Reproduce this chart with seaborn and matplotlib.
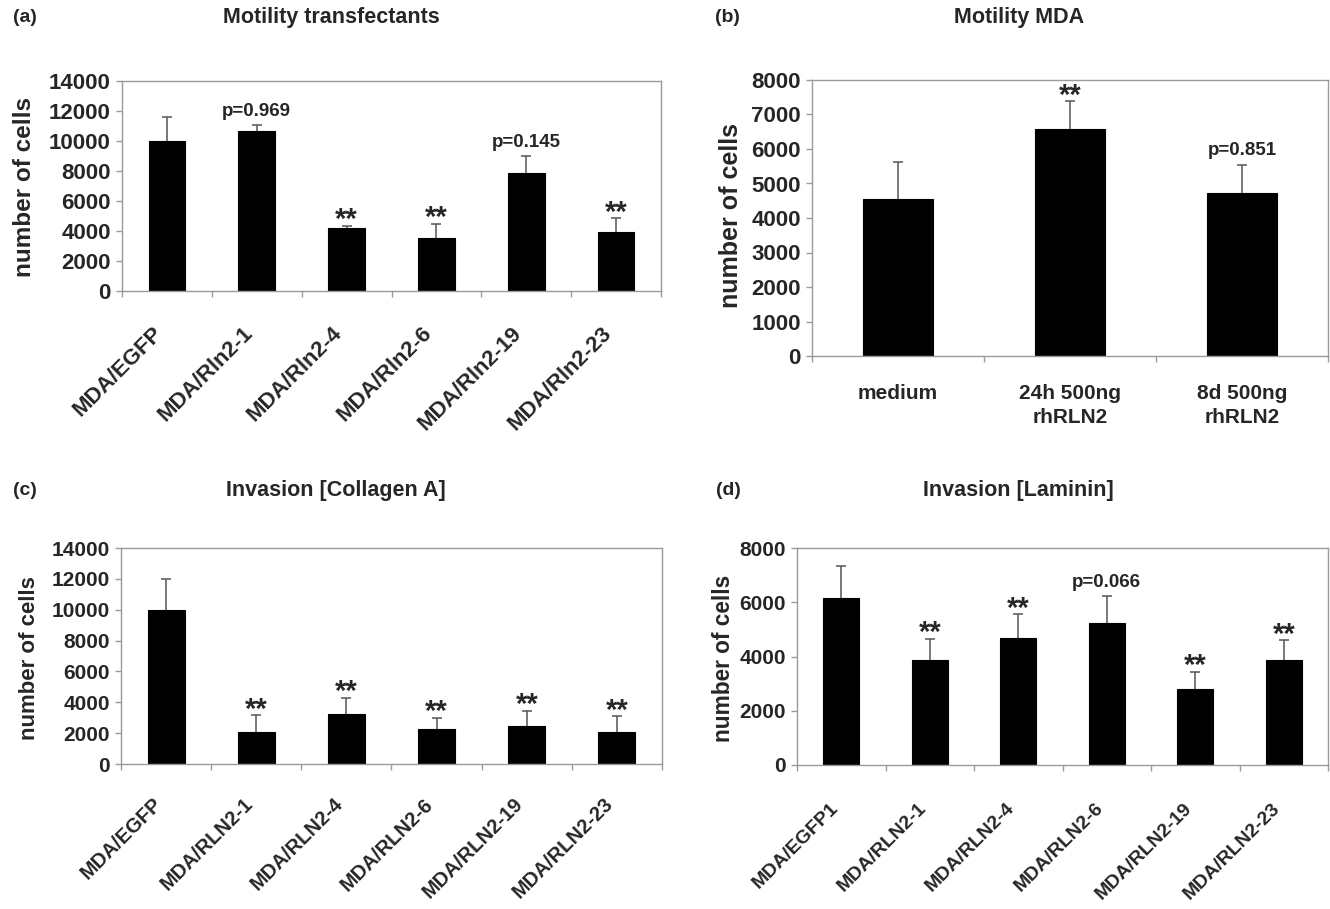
import matplotlib
matplotlib.use("Agg")
import matplotlib.pyplot as plt
import numpy as np
import pandas as pd
import seaborn as sns

# ---- data -------------------------------------------------------------
a_labels = ["MDA/EGFP", "MDA/Rln2-1", "MDA/Rln2-4", "MDA/Rln2-6", "MDA/Rln2-19", "MDA/Rln2-23"]
a_means = [10000, 10650, 4200, 3530, 7900, 3950]
a_sd = [1600, 400, 150, 970, 1100, 900]
a_marks = ["", "p=0.969", "**", "**", "p=0.145", "**"]

b_labels = ["medium", "24h 500ng\nrhRLN2", "8d 500ng\nrhRLN2"]
b_means = [4540, 6590, 4730]
b_sd = [1090, 790, 820]
b_marks = ["", "**", "p=0.851"]

c_labels = ["MDA/EGFP", "MDA/RLN2-1", "MDA/RLN2-4", "MDA/RLN2-6", "MDA/RLN2-19", "MDA/RLN2-23"]
c_means = [9950, 2070, 3210, 2250, 2450, 2070]
c_sd = [2050, 1080, 1090, 750, 1010, 1030]
c_marks = ["", "**", "**", "**", "**", "**"]

d_labels = ["MDA/EGFP1", "MDA/RLN2-1", "MDA/RLN2-4", "MDA/RLN2-6", "MDA/RLN2-19", "MDA/RLN2-23"]
d_means = [6160, 3880, 4670, 5220, 2790, 3880]
d_sd = [1160, 780, 890, 1010, 640, 720]
d_marks = ["", "**", "**", "p=0.066", "**", "**"]

# ---- style ------------------------------------------------------------
sns.set_style("white")
plt.rcParams["font.family"] = ["Liberation Sans", "DejaVu Sans"]
plt.rcParams["font.weight"] = "bold"

W, H = 1330, 909
fig = plt.figure(figsize=(W / 100, H / 100), dpi=100)
fig.patch.set_facecolor("white")

GRAY = "#9a9a9a"


def rect(x0, x1, y0, y1):
    return [x0 / W, 1 - y1 / H, (x1 - x0) / W, (y1 - y0) / H]


def ftext(x, y, s, **kw):
    fig.text(x / W, 1 - y / H, s, **kw)


def panel(box, labels, means, sd, marks, ymax, ystep, rotate,
          tick_fs=15, xlab_fs=15, xpad=24):
    ax = fig.add_axes(rect(*box))
    n = len(labels)
    df = pd.DataFrame({"group": labels, "cells": means})
    sns.barplot(data=df, x="group", y="cells", color="black", width=0.41,
                errorbar=None, edgecolor="black", linewidth=0.8,
                saturation=1, ax=ax)
    pos = np.arange(n)
    # upper-only error bars (SD)
    _, caps, _ = ax.errorbar(pos, means, yerr=[np.zeros(n), sd], fmt="none",
                             ecolor="#555555", elinewidth=1.1, capsize=3.5,
                             capthick=1.1)
    caps[0].set_visible(False)
    top = np.array(means) + np.array(sd)
    for i, m in enumerate(marks):
        if not m:
            continue
        if m.startswith("p"):
            ax.annotate(m, (i, top[i]), xytext=(0, 10), textcoords="offset points",
                        ha="center", va="center", fontsize=13.5, fontweight="bold")
        else:
            ax.annotate(m, (i, top[i]), xytext=(0, 4), textcoords="offset points",
                        ha="center", va="center", fontsize=21, fontweight="bold")
    ax.set_xlim(-0.5, n - 0.5)
    ax.set_ylim(0, ymax)
    ax.set_yticks(np.arange(0, ymax + 1, ystep))
    ax.set_xticks(pos)
    ax.set_xticks(np.arange(n + 1) - 0.5, minor=True)
    ax.set_xlabel("")
    ax.set_ylabel("")
    for s in ax.spines.values():
        s.set_visible(True)
        s.set_color(GRAY)
        s.set_linewidth(1.0)
    ax.tick_params(axis="y", which="major", length=4, width=1, color=GRAY,
                   direction="out", pad=4, labelsize=tick_fs, left=True)
    ax.tick_params(axis="x", which="minor", length=4, width=1, color=GRAY,
                   direction="out", bottom=True)
    if rotate:
        ax.tick_params(axis="x", which="major", length=0, pad=xpad, labelsize=xlab_fs)
        ax.set_xticklabels(labels, rotation=45, ha="right", va="top",
                           fontweight="bold")
    else:
        ax.tick_params(axis="x", which="major", length=0, pad=xpad, labelsize=xlab_fs)
        ax.set_xticklabels(labels, fontweight="bold", linespacing=1.35)
    for t in ax.get_yticklabels():
        t.set_fontweight("bold")
    return ax


panel((122, 661, 81, 291), a_labels, a_means, a_sd, a_marks, 14000, 2000, True,
      tick_fs=16, xlab_fs=16, xpad=23)
panel((812, 1328, 80, 356), b_labels, b_means, b_sd, b_marks, 8000, 1000, False,
      tick_fs=16, xlab_fs=15, xpad=20)
panel((121, 662, 548, 764), c_labels, c_means, c_sd, c_marks, 14000, 2000, True,
      tick_fs=15, xlab_fs=14.5, xpad=22)
panel((797, 1328, 548, 765), d_labels, d_means, d_sd, d_marks, 8000, 2000, True,
      tick_fs=15, xlab_fs=14, xpad=25)

# panel letters and titles
for x, y, s in [(25, 18, "(a)"), (727, 18, "(b)"), (25, 490, "(c)"), (728, 490, "(d)")]:
    ftext(x, y, s, ha="center", va="center", fontsize=14, fontweight="bold")
for x, y, s in [(331, 18, "Motility transfectants"), (1019, 18, "Motility MDA"),
                (336, 490, "Invasion [Collagen A]"), (1018, 490, "Invasion [Laminin]")]:
    ftext(x, y, s, ha="center", va="center", fontsize=15.5, fontweight="bold")

# y-axis titles
for x, y, fs in [(25, 187, 17.5), (731, 216, 18), (30, 658, 16), (724, 658, 16.3)]:
    ftext(x, y, "number of cells", ha="center", va="center", rotation=90,
          fontsize=fs, fontweight="bold")

fig.savefig("out.png", dpi=100, facecolor="white")
